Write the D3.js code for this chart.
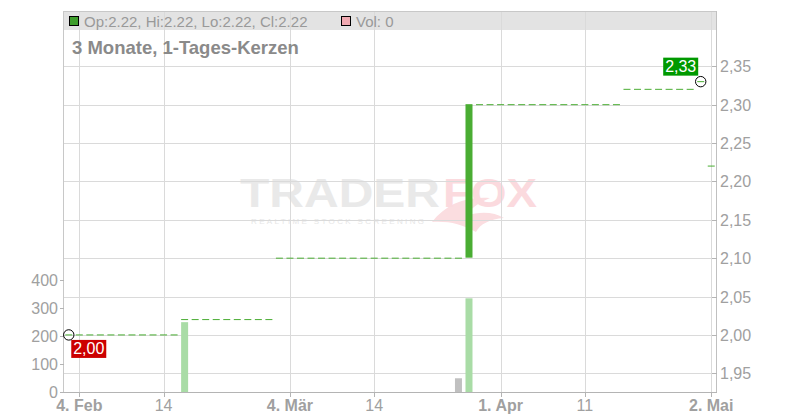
<!DOCTYPE html>
<html><head><meta charset="utf-8">
<script src="https://cdn.jsdelivr.net/npm/d3@7/dist/d3.min.js"></script>
<style>
html,body{margin:0;padding:0;background:#fff;}
svg{display:block;font-family:"Liberation Sans",Arial,sans-serif;}
</style></head>
<body><svg id="c" width="800" height="420"></svg>
<script>
// ---- data ----
const dates = [
 "2025-02-03","2025-02-04","2025-02-05","2025-02-06","2025-02-07",
 "2025-02-10","2025-02-11","2025-02-12","2025-02-13","2025-02-14",
 "2025-02-17","2025-02-18","2025-02-19","2025-02-20","2025-02-21",
 "2025-02-24","2025-02-25","2025-02-26","2025-02-27","2025-02-28",
 "2025-03-03","2025-03-04","2025-03-05","2025-03-06","2025-03-07",
 "2025-03-10","2025-03-11","2025-03-12","2025-03-13","2025-03-14",
 "2025-03-17","2025-03-18","2025-03-19","2025-03-20","2025-03-21",
 "2025-03-24","2025-03-25","2025-03-26","2025-03-27","2025-03-28",
 "2025-03-31","2025-04-01","2025-04-02","2025-04-03","2025-04-04",
 "2025-04-07","2025-04-08","2025-04-09","2025-04-10","2025-04-11",
 "2025-04-14","2025-04-15","2025-04-16","2025-04-17","2025-04-22",
 "2025-04-23","2025-04-24","2025-04-25","2025-04-28","2025-04-29",
 "2025-04-30","2025-05-02"];
const opens = [
 2.00,2.00,2.00,2.00,2.00,2.00,2.00,2.00,2.00,2.00,
 2.00,2.02,2.02,2.02,2.02,2.02,2.02,2.02,2.02,2.02,
 2.10,2.10,2.10,2.10,2.10,2.10,2.10,2.10,2.10,2.10,
 2.10,2.10,2.10,2.10,2.10,2.10,2.10,2.10,2.10,2.30,
 2.30,2.30,2.30,2.30,2.30,2.30,2.30,2.30,2.30,2.30,
 2.30,2.30,2.30,2.32,2.32,2.32,2.32,2.32,2.32,2.32,
 2.33,2.22];
const closes = [
 2.00,2.00,2.00,2.00,2.00,2.00,2.00,2.00,2.00,2.00,
 2.00,2.02,2.02,2.02,2.02,2.02,2.02,2.02,2.02,2.02,
 2.10,2.10,2.10,2.10,2.10,2.10,2.10,2.10,2.10,2.10,
 2.10,2.10,2.10,2.10,2.10,2.10,2.10,2.10,2.30,2.30,
 2.30,2.30,2.30,2.30,2.30,2.30,2.30,2.30,2.30,2.30,
 2.30,2.30,2.30,2.32,2.32,2.32,2.32,2.32,2.32,2.32,
 2.33,2.22];
const volumes = [
 0,0,0,0,0,0,0,0,0,0,
 0,250,0,0,0,0,0,0,0,0,
 0,0,0,0,0,0,0,0,0,0,
 0,0,0,0,0,0,0,50,335,0,
 0,0,0,0,0,0,0,0,0,0,
 0,0,0,0,0,0,0,0,0,0,
 0,0];
const tickDates  = ["2025-02-04","2025-02-14","2025-03-04","2025-03-14","2025-04-01","2025-04-11","2025-05-02"];
const tickLabels = ["4. Feb","14","4. Mär","14","1. Apr","11","2. Mai"];
const tickBold   = [true,false,true,false,true,false,true];
const priceTicks = [1.95,2.00,2.05,2.10,2.15,2.20,2.25,2.30,2.35];
const volTicks   = [0,100,200,300,400];

// ---- layout ----
const L = 64, R = 716, T = 11, B = 392, HB = 30;
const svg = d3.select("#c");
const x = d3.scaleLinear().domain([-0.5, dates.length - 0.5]).range([63.5, 716.5]);
const y = d3.scaleLinear().domain([1.95, 2.35]).range([373.3, 66.3]);
const yv = d3.scaleLinear().domain([0, 400]).range([392.3, 280.1]);
const fmt = v => d3.format(".2f")(v).replace(".", ",");
const bw = 7;

// header band
svg.append("rect").attr("x", L).attr("y", T).attr("width", R - L).attr("height", HB - T).attr("fill", "#e3e3e3");

// watermark
const wm = svg.append("g").attr("class", "watermark");
wm.append("path").attr("d", "M432,222 C446,204 466,196 490,198 C478,203 470,209 466,216 C480,211 494,212 504,218 C490,219 480,224 476,232 C462,224 448,221 432,222 Z")
  .attr("fill", "#fbdde0");
wm.append("text").attr("x", 240).attr("y", 207).attr("font-size", 41).attr("font-weight", "bold")
  .attr("textLength", 200).attr("lengthAdjust", "spacingAndGlyphs").attr("fill", "#e9e9e9").text("TRADER");
wm.append("text").attr("x", 443).attr("y", 207).attr("font-size", 41).attr("font-weight", "bold")
  .attr("textLength", 94).attr("lengthAdjust", "spacingAndGlyphs").attr("fill", "#fbdade").text("FOX");
wm.append("text").attr("x", 251).attr("y", 223.5).attr("font-size", 8).attr("letter-spacing", 3)
  .attr("textLength", 176).attr("lengthAdjust", "spacing")
  .attr("fill", "#e6e6e6").text("REALTIME STOCK SCREENING");

// grid
const grid = svg.append("g").attr("stroke", "#dadada").attr("stroke-width", 1).attr("shape-rendering", "crispEdges");
grid.selectAll("line.h").data(priceTicks).join("line")
  .attr("x1", L).attr("x2", R).attr("y1", d => Math.round(y(d)) + 0.5).attr("y2", d => Math.round(y(d)) + 0.5);
const tickIdx = tickDates.map(d => dates.indexOf(d));
grid.selectAll("line.v").data(tickIdx).join("line")
  .attr("y1", T).attr("y2", B).attr("x1", d => Math.round(x(d)) + 0.5).attr("x2", d => Math.round(x(d)) + 0.5);

// frame
const fr = svg.append("g").attr("shape-rendering", "crispEdges").attr("fill", "none");
fr.append("line").attr("x1", L).attr("x2", R).attr("y1", T + 0.5).attr("y2", T + 0.5).attr("stroke", "#c8c8c8");
fr.append("line").attr("x1", L - 0.5).attr("x2", L - 0.5).attr("y1", T).attr("y2", B).attr("stroke", "#c8c8c8");
fr.append("line").attr("x1", R + 0.5).attr("x2", R + 0.5).attr("y1", T).attr("y2", B + 1).attr("stroke", "#c0c0c0");
fr.append("line").attr("x1", L - 1).attr("x2", R + 1).attr("y1", B + 0.5).attr("y2", B + 0.5).attr("stroke", "#b4b4b4");

// header text
svg.append("rect").attr("x", 69.5).attr("y", 16.5).attr("width", 9).attr("height", 9).attr("fill", "#3e9e2c").attr("stroke", "#000");
svg.append("text").attr("x", 84).attr("y", 27).attr("font-size", 15).attr("fill", "#999")
  .text(`Op:${opens[opens.length-1].toFixed(2)}, Hi:${Math.max(opens[opens.length-1],closes[closes.length-1]).toFixed(2)}, Lo:${Math.min(opens[opens.length-1],closes[closes.length-1]).toFixed(2)}, Cl:${closes[closes.length-1].toFixed(2)}`);
svg.append("rect").attr("x", 341.5).attr("y", 16.5).attr("width", 9).attr("height", 9).attr("fill", "#f0a9b1").attr("stroke", "#000");
svg.append("text").attr("x", 356).attr("y", 27).attr("font-size", 15).attr("fill", "#999").text(`Vol: ${volumes[volumes.length-1]}`);
svg.append("text").attr("x", 72).attr("y", 54).attr("font-size", 18.5).attr("font-weight", "bold").attr("fill", "#8a8a8a")
  .text("3 Monate, 1-Tages-Kerzen");

// clip
svg.append("clipPath").attr("id", "pc").append("rect").attr("x", L).attr("y", T).attr("width", R - L).attr("height", B - T);
const plot = svg.append("g").attr("clip-path", "url(#pc)");

// volume bars
plot.append("g").selectAll("rect").data(volumes.map((v, i) => ({v, i})).filter(d => d.v > 0)).join("rect")
  .attr("x", d => x(d.i) - bw / 2).attr("width", bw)
  .attr("y", d => yv(d.v)).attr("height", d => yv(0) - yv(d.v))
  .attr("fill", d => (d.i > 0 && closes[d.i] === closes[d.i - 1]) ? "#c0c0c0" : "#a9dca6");

// candles
plot.append("g").selectAll("rect").data(closes.map((c, i) => ({o: opens[i], c, i}))).join("rect")
  .attr("x", d => x(d.i) - bw / 2).attr("width", bw)
  .attr("y", d => Math.min(y(d.o), y(d.c)) - 0.5)
  .attr("height", d => Math.max(1, Math.abs(y(d.o) - y(d.c))))
  .attr("fill", "#4aad33");

// right price axis
const ya = svg.append("g");
ya.selectAll("line").data(priceTicks).join("line").attr("shape-rendering", "crispEdges")
  .attr("x1", 712).attr("x2", 717).attr("y1", d => Math.round(y(d)) + 0.5).attr("y2", d => Math.round(y(d)) + 0.5).attr("stroke", "#b4b4b4");
ya.selectAll("text").data(priceTicks).join("text")
  .attr("x", 720).attr("y", d => y(d) + 6).attr("font-size", 16).attr("fill", "#a0a0a0").text(fmt);

// left volume axis
const va = svg.append("g");
va.selectAll("line").data(volTicks).join("line").attr("shape-rendering", "crispEdges")
  .attr("x1", 60).attr("x2", 64).attr("y1", d => Math.round(yv(d)) + 0.5).attr("y2", d => Math.round(yv(d)) + 0.5).attr("stroke", "#b4b4b4");
va.selectAll("text").data(volTicks).join("text")
  .attr("x", 58).attr("y", d => yv(d) + 6).attr("text-anchor", "end").attr("font-size", 16).attr("fill", "#a0a0a0").text(d => d);

// bottom axis
const xa = svg.append("g");
xa.selectAll("line").data(tickIdx).join("line").attr("shape-rendering", "crispEdges")
  .attr("x1", d => Math.round(x(d)) + 0.5).attr("x2", d => Math.round(x(d)) + 0.5).attr("y1", B).attr("y2", B + 5).attr("stroke", "#b4b4b4");
xa.selectAll("text").data(tickIdx).join("text")
  .attr("x", d => x(d)).attr("y", 411).attr("text-anchor", "middle").attr("font-size", 16)
  .attr("font-weight", (d, k) => tickBold[k] ? "bold" : "normal").attr("fill", "#a0a0a0").text((d, k) => tickLabels[k]);

// min / max markers
const iMin = d3.minIndex(closes), iMax = d3.maxIndex(closes);
const cmin = [x(iMin), y(closes[iMin])], cmax = [x(iMax), y(closes[iMax])];
svg.append("circle").attr("cx", cmin[0]).attr("cy", cmin[1]).attr("r", 5.2).attr("fill", "none").attr("stroke", "#000");
svg.append("circle").attr("cx", cmax[0]).attr("cy", cmax[1]).attr("r", 5.2).attr("fill", "none").attr("stroke", "#000");
svg.append("rect").attr("x", cmin[0] + 2.5).attr("y", cmin[1] + 5).attr("width", 35).attr("height", 18).attr("fill", "#cc0000");
svg.append("text").attr("x", cmin[0] + 20).attr("y", cmin[1] + 19.5).attr("text-anchor", "middle").attr("font-size", 16).attr("fill", "#fff").text(fmt(closes[iMin]));
svg.append("rect").attr("x", cmax[0] - 37.5).attr("y", cmax[1] - 24).attr("width", 35).attr("height", 18).attr("fill", "#009900");
svg.append("text").attr("x", cmax[0] - 20).attr("y", cmax[1] - 9.5).attr("text-anchor", "middle").attr("font-size", 16).attr("fill", "#fff").text(fmt(closes[iMax]));
</script></body></html>
